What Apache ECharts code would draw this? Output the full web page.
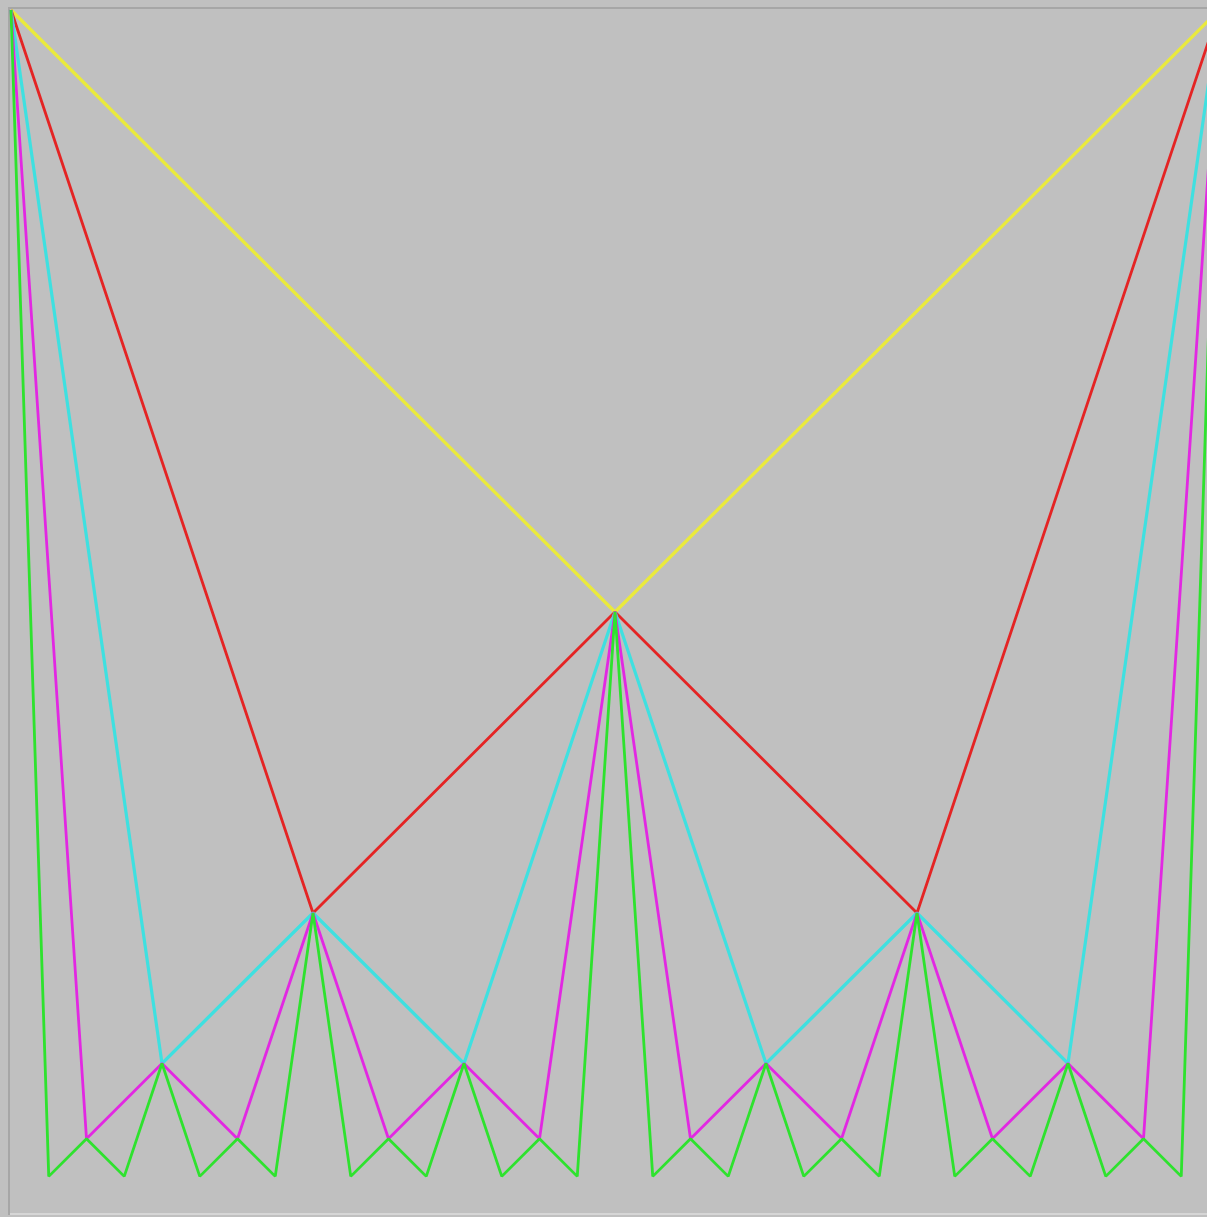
<!DOCTYPE html>
<html>
<head>
<meta charset="utf-8">
<script src="https://cdn.jsdelivr.net/npm/echarts@6/dist/echarts.min.js"></script>
<style>
html,body{margin:0;padding:0;background:#c0c0c0;}
#c{width:1207px;height:1217px;}
</style>
</head>
<body>
<div id="c"></div>
<script>
// x positions in units of 1/32 of the width; y as fraction of the height (0 = top)
const yellowX = [0, 16, 32];
const yellowY = [0, 0.5, 0];
const redX = [0, 8, 16, 24, 32];
const redY = [0, 0.75, 0.5, 0.75, 0];
const cyanX = [0, 4, 8, 12, 16, 20, 24, 28, 32];
const cyanY = [0, 0.875, 0.75, 0.875, 0.5, 0.875, 0.75, 0.875, 0];
const magentaX = [0, 2, 4, 6, 8, 10, 12, 14, 16, 18, 20, 22, 24, 26, 28, 30, 32];
const magentaY = [0, 0.9375, 0.875, 0.9375, 0.75, 0.9375, 0.875, 0.9375, 0.5,
                  0.9375, 0.875, 0.9375, 0.75, 0.9375, 0.875, 0.9375, 0];
const greenX = [0, 1, 2, 3, 4, 5, 6, 7, 8, 9, 10, 11, 12, 13, 14, 15, 16,
                17, 18, 19, 20, 21, 22, 23, 24, 25, 26, 27, 28, 29, 30, 31, 32];
const greenY = [0, 0.96875, 0.9375, 0.96875, 0.875, 0.96875, 0.9375, 0.96875, 0.75,
                0.96875, 0.9375, 0.96875, 0.875, 0.96875, 0.9375, 0.96875, 0.5,
                0.96875, 0.9375, 0.96875, 0.875, 0.96875, 0.9375, 0.96875, 0.75,
                0.96875, 0.9375, 0.96875, 0.875, 0.96875, 0.9375, 0.96875, 0];

function pts(xs, ys) { return xs.map((x, i) => [x, ys[i]]); }
function line(name, xs, ys, color, w) {
  return {
    name: name, type: 'line', data: pts(xs, ys), showSymbol: false, symbol: 'none',
    clip: false, animation: false, silent: true,
    lineStyle: { color: color, width: w }
  };
}

const chart = echarts.init(document.getElementById('c'), null, { renderer: 'canvas' });
chart.setOption({
  backgroundColor: '#c0c0c0',
  animation: false,
  grid: { left: 11, top: 10, width: 1208, height: 1204, outerBoundsMode: 'none', containLabel: false },
  xAxis: { type: 'value', min: 0, max: 32, show: false },
  yAxis: { type: 'value', min: 0, max: 1, inverse: true, show: false },
  graphic: [
    { type: 'rect', shape: { x: 8, y: 7, width: 1210, height: 2 }, style: { fill: '#a6a6a6' }, z: -1 },
    { type: 'rect', shape: { x: 8, y: 7, width: 2, height: 1208 }, style: { fill: '#a6a6a6' }, z: -1 },
    { type: 'rect', shape: { x: 10, y: 1213, width: 1200, height: 2 }, style: { fill: '#d6d6d6' }, z: -1 }
  ],
  series: [
    line('yellow', yellowX, yellowY, '#eaea3c', 3.2),
    line('red', redX, redY, '#e42424', 2.8),
    line('cyan', cyanX, cyanY, '#3fe0e0', 3.2),
    line('magenta', magentaX, magentaY, '#e228e2', 2.8),
    line('green', greenX, greenY, '#2ee22e', 2.8)
  ]
});
</script>
</body>
</html>
